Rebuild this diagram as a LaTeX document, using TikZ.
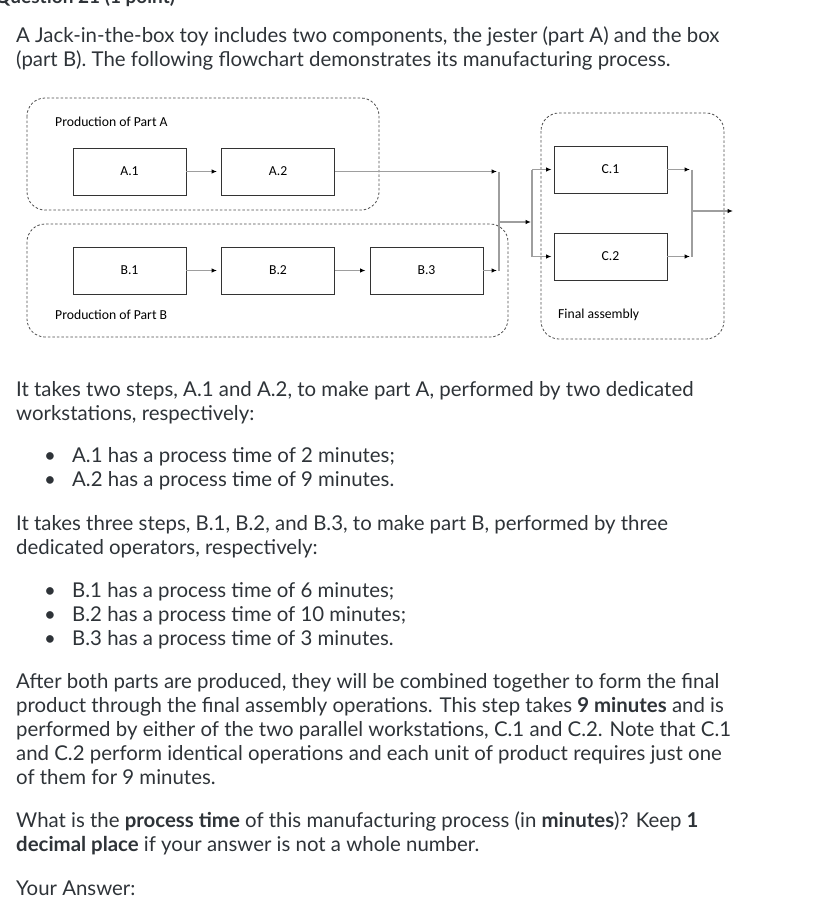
\documentclass[tikz,border=0pt]{standalone}
\usepackage{fontspec}
\setmainfont{Lato}
\newfontfamily\diafont{Carlito}
\usetikzlibrary{arrows.meta}

\definecolor{bodytext}{rgb}{0.18,0.2,0.22}
\definecolor{linkgray}{rgb}{0.62,0.62,0.62}
\newcommand{\bulletline}[1]{\makebox[28pt][l]{\textbullet}#1}

\begin{document}
\begin{tikzpicture}[x=1pt, y=-1pt,
            stationBox/.style={draw=black!80, line width=0.9pt, minimum width=113pt, minimum height=47pt, inner sep=0pt, font=\diafont\fontsize{13.7}{16}\selectfont},
            regionBox/.style={draw=black!70, line width=0.8pt, dash pattern=on 2.5pt off 2pt, rounded corners=18pt},
            regionLabel/.style={anchor=west, inner sep=0pt, font=\diafont\fontsize{13.7}{16}\selectfont},
            flowLine/.style={draw=linkgray, line width=1.1pt},
            flowArrow/.style={flowLine, shorten >=2pt, -{Latex[length=5.5pt, width=4.5pt, color=black]}},
            textPara/.style={anchor=base west, align=left, inner sep=0pt, text=bodytext, font=\fontsize{20.4}{23.9}\selectfont}]

            \useasboundingbox (0,0) rectangle (812,908);

            % heading cut by the page edge
            \node [textPara, font=\bfseries\fontsize{19}{24}\selectfont] (heading) at (-5,3) {Question 21 (1 point)};

            % paragraphs sit on the baseline of their last line
            \node [textPara] (intro) at (16,66) {A Jack-in-the-box toy includes two components, the jester (part A) and the box\\(part B). The following flowchart demonstrates its manufacturing process.};

            % flowchart
            \draw [regionBox] (27,98) rectangle (379,210);
            \draw [regionBox] (27,224) rectangle (508,337);
            \draw [regionBox] (541,113) rectangle (724,339);

            \node [regionLabel] (labelA) at (55,122) {Production of Part A};
            \node [regionLabel] (labelB) at (55,315) {Production of Part B};
            \node [regionLabel] (labelC) at (558,315) {Final assembly};

            \node [stationBox] (A1) at (129.5,171.5) {A.1};
            \node [stationBox] (A2) at (278,171.5) {A.2};
            \node [stationBox] (B1) at (129.5,270.5) {B.1};
            \node [stationBox] (B2) at (278,270.5) {B.2};
            \node [stationBox] (B3) at (426.5,270.5) {B.3};
            \node [stationBox] (C1) at (610.5,169.5) {C.1};
            \node [stationBox] (C2) at (610.5,256.5) {C.2};

            \coordinate (mergeTop) at (499,171.5);
            \coordinate (mergeBot) at (499,270.5);
            \coordinate (mergeMid) at (499,222);
            \coordinate (splitMid) at (532,222);
            \coordinate (splitTop) at (532,169.5);
            \coordinate (splitBot) at (532,256.5);
            \coordinate (joinTop) at (692,169.5);
            \coordinate (joinBot) at (692,256.5);
            \coordinate (joinMid) at (692,211);
            \coordinate (outEnd) at (733,211);

            \draw [flowArrow, shorten >=4pt] (A1) -- (A2);
            \draw [flowArrow, shorten >=4pt] (B1) -- (B2);
            \draw [flowArrow, shorten >=4pt] (B2) -- (B3);
            \draw [flowArrow] (A2) -- (mergeTop);
            \draw [flowArrow] (B3) -- (mergeBot);
            \draw [flowLine] (mergeTop) -- (mergeBot);
            \draw [flowArrow, shorten >=1pt] (mergeMid) -- (splitMid);
            \draw [flowLine] (splitTop) -- (splitBot);
            \draw [flowArrow] (splitTop) -- (C1);
            \draw [flowArrow] (splitBot) -- (C2);
            \draw [flowArrow] (C1) -- (joinTop);
            \draw [flowArrow] (C2) -- (joinBot);
            \draw [flowLine] (joinTop) -- (joinBot);
            \draw [flowArrow, shorten >=0pt] (joinMid) -- (outEnd);

            % question text
            \node [textPara] (stepsA) at (16,420) {It takes two steps, A.1 and A.2, to make part A, performed by two dedicated\\workstations, respectively:};
            \node [textPara] (listA) at (44,486) {\bulletline{A.1 has a process time of 2 minutes;}\\\bulletline{A.2 has a process time of 9 minutes.}};
            \node [textPara] (stepsB) at (16,554) {It takes three steps, B.1, B.2, and B.3, to make part B, performed by three\\dedicated operators, respectively:};
            \node [textPara] (listB) at (44,645) {\bulletline{B.1 has a process time of 6 minutes;}\\\bulletline{B.2 has a process time of 10 minutes;}\\\bulletline{B.3 has a process time of 3 minutes.}};
            \node [textPara] (assembly) at (16,784) {After both parts are produced, they will be combined together to form the final\\product through the final assembly operations. This step takes \textbf{9 minutes} and is\\performed by either of the two parallel workstations, C.1 and C.2. Note that C.1\\and C.2 perform identical operations and each unit of product requires just one\\of them for 9 minutes.};
            \node [textPara] (question) at (16,851) {What is the \textbf{process time} of this manufacturing process (in \textbf{minutes})? Keep \textbf{1}\\\textbf{decimal place} if your answer is not a whole number.};
            \node [textPara] (answer) at (16,895) {Your Answer:};
        \end{tikzpicture}
\end{document}
